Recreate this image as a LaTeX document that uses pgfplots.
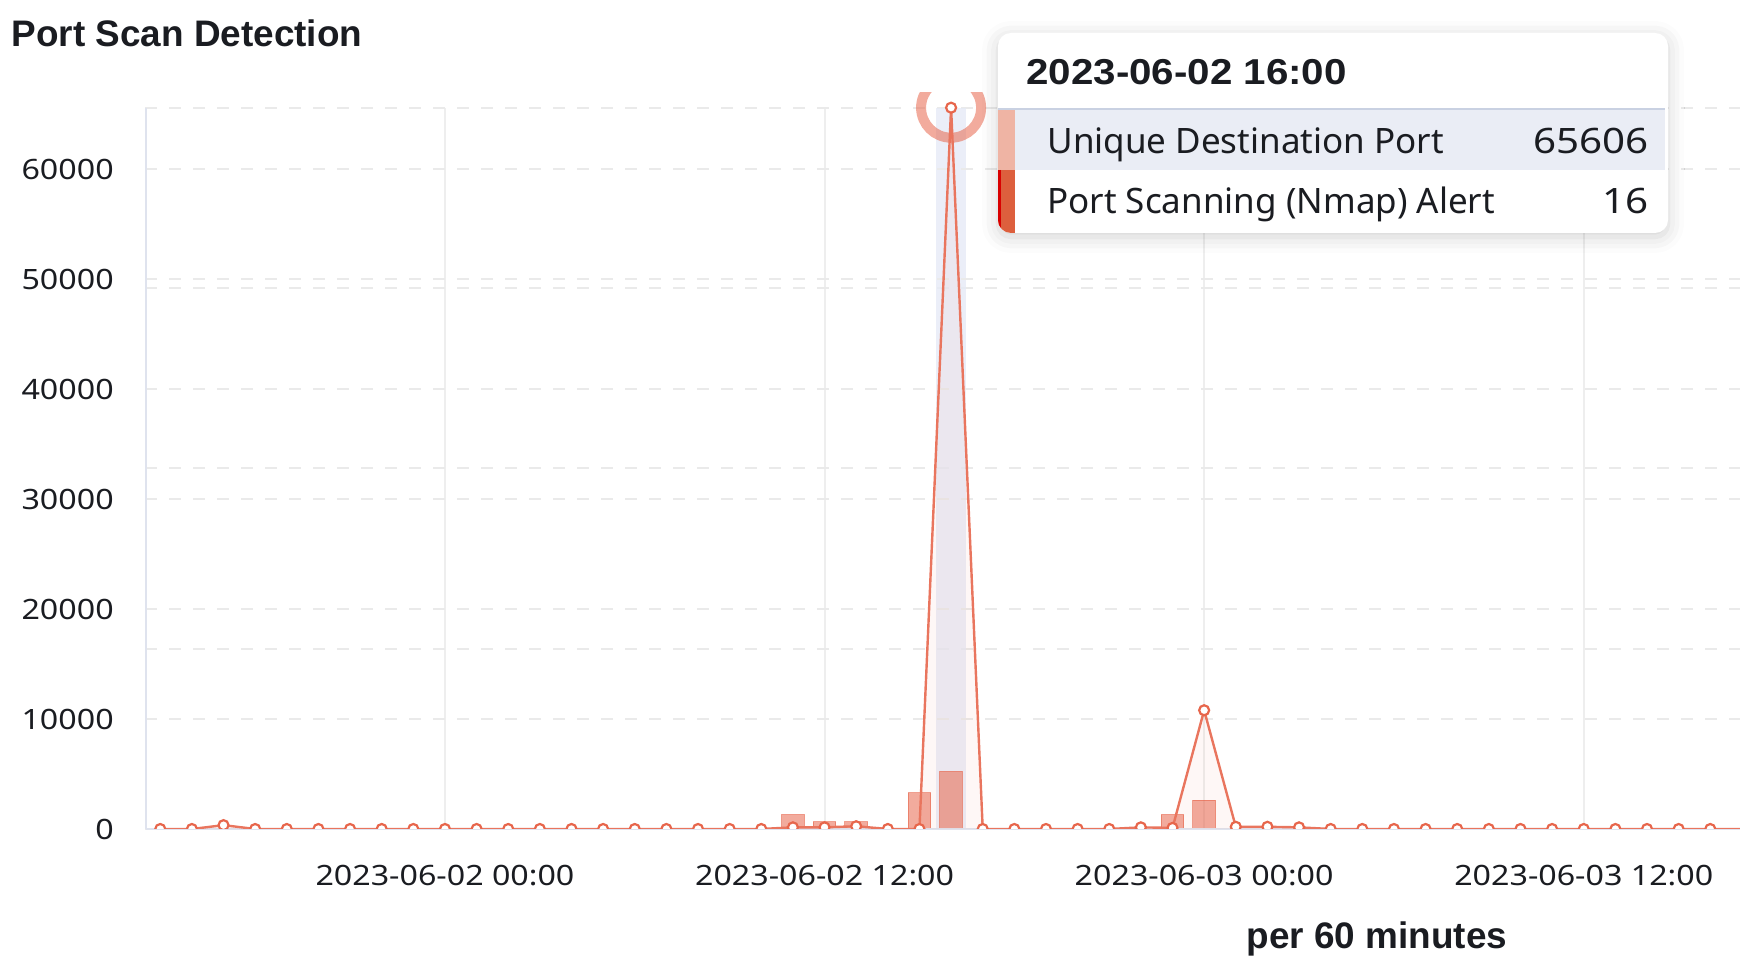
\documentclass[border=0pt]{standalone}
\usepackage{fontspec}
\setmainfont{Noto Sans}
\newfontfamily\widefont{Noto Sans}[FakeStretch=1.15]
\newfontfamily\bfont{Liberation Sans}
\newfontfamily\bwidefont{Liberation Sans}[FakeStretch=1.12]
\usepackage{pgfplots}
\usepackage{pgfplotstable}
\pgfplotsset{compat=1.18}
\usetikzlibrary{shadows.blur}

\definecolor{coral}{HTML}{E7664C}
\definecolor{gridc}{HTML}{EAEAEA}
\definecolor{vgrid}{HTML}{EEEEEE}
\definecolor{axisc}{HTML}{DFE3EE}
\definecolor{band}{HTML}{E6EAF6}
\definecolor{ink}{HTML}{1A1C21}
\definecolor{rowbg}{HTML}{EAEDF5}
\definecolor{sepc}{HTML}{C9D1E2}
\definecolor{stripeA}{HTML}{EFB4A4}
\definecolor{stripeB}{HTML}{DD5F3D}

% hours counted from 2023-06-02 00:00
\pgfplotstableread{
h ports
-9 0
-8 0
-7 350
-6 0
-5 0
-4 0
-3 0
-2 0
-1 0
0 0
1 0
2 0
3 0
4 0
5 0
6 0
7 0
8 0
9 0
10 0
11 150
12 150
13 250
14 0
15 0
16 65606
17 0
18 0
19 0
20 0
21 0
22 150
23 100
24 10800
25 200
26 200
27 150
28 0
29 0
30 0
31 0
32 0
33 0
34 0
35 0
36 0
37 0
38 0
39 0
40 0
41 0
}\portsdata

\pgfplotstableread{
h alerts
11 4
12 2
13 2
15 10
16 16
23 4
24 8
}\alertdata

\pgfplotsset{
  base/.style={
    scale only axis, width=159.46mm,
    xmin=-9.47, xmax=40.94, ymin=0,
    anchor=south west, at={(14.54mm,-82.9mm)},
    axis line style={draw=none},
    major tick length=0pt,
  },
  tickfont/.style={font=\widefont\fontsize{7.97pt}{9pt}\selectfont, text=ink},
}

\begin{document}
\begin{tikzpicture}
% alert counts, right scale (hidden)
\begin{axis}[base,
    height=72.13mm, ymax=200,
    ytick={50,100,150,200}, yticklabels={,,,},
    xtick={0,12,24,36},
    xticklabels={2023-06-02 00:00, 2023-06-02 12:00, 2023-06-03 00:00, 2023-06-03 12:00},
    xticklabel style={tickfont, anchor=north, inner sep=0pt, yshift=-3.55mm},
    xmajorgrids, ymajorgrids,
    major x grid style={vgrid, line width=0.2mm},
    major y grid style={gridc, line width=0.2mm, dash pattern=on 1.2mm off 1.2mm},
  ]
  \fill[band, opacity=0.8] (axis cs:15.52,0) rectangle (axis cs:16.48,200);
  \addplot[ybar, bar width=2.27mm, fill=coral, fill opacity=0.55,
           draw=coral, draw opacity=0.6, line width=0.1mm]
    table[x=h, y=alerts] {\alertdata};
\end{axis}

% unique destination ports, left scale
\begin{axis}[base,
    height=73.6mm, ymax=66943,
    ytick={0,10000,...,60000},
    xtick=\empty,
    scaled y ticks=false,
    /pgf/number format/.cd, 1000 sep={}, assume math mode=true,
    /pgfplots/.cd,
    yticklabel style={tickfont, anchor=east, inner sep=0pt, xshift=-3.1mm},
    ymajorgrids,
    major y grid style={gridc, line width=0.2mm, dash pattern=on 1.2mm off 1.2mm},
    clip mode=individual, clip marker paths=true,
  ]
  \draw[axisc, line width=0.2mm] (axis cs:-9.46,0) -- (axis cs:-9.46,65606);
  \draw[axisc, line width=0.2mm] (axis cs:-9.46,0) -- (axis cs:40.94,0);
  \addplot[only marks, mark=o, mark size=3mm,
           mark options={draw=coral, draw opacity=0.55, line width=1mm}]
    coordinates {(16,65606)};
  \addplot[fill=coral, fill opacity=0.05, draw=none]
    table[x=h, y=ports] {\portsdata} \closedcycle;
  \addplot[coral!90!white, line width=0.24mm, mark=*, mark size=0.5mm,
           mark options={fill=white, draw=coral, line width=0.22mm}]
    table[x=h, y=ports] {\portsdata};
\end{axis}

\node[anchor=base west, inner sep=0pt, text=ink,
      font=\bfont\fontsize{10.5pt}{12pt}\selectfont\bfseries] at (1.1mm,-4.67mm) {Port Scan Detection};
\node[anchor=base west, inner sep=0pt, text=ink,
      font=\bfont\fontsize{10.5pt}{12pt}\selectfont\bfseries] at (124.6mm,-94.83mm) {per 60 minutes};

% tooltip
\path[fill=white, rounded corners=1.3mm,
      blur shadow={shadow xshift=0mm, shadow yshift=-0.4mm, shadow blur radius=1.6mm, shadow opacity=18}]
  (99.8mm,-3.3mm) rectangle (166.8mm,-23.3mm);
\begin{scope}
  \clip[rounded corners=1.3mm] (99.8mm,-3.3mm) rectangle (166.8mm,-23.3mm);
  \fill[rowbg] (99.8mm,-11.0mm) rectangle (166.5mm,-17.0mm);
  \fill[sepc] (99.8mm,-10.8mm) rectangle (166.5mm,-11.05mm);
  \fill[stripeA] (99.8mm,-11.05mm) rectangle (101.5mm,-17.0mm);
  \fill[stripeB] (99.8mm,-17.0mm) rectangle (101.5mm,-23.3mm);
  \draw[red!85!black, line width=0.25mm] (99.95mm,-17.0mm) -- (99.95mm,-23.3mm);
\end{scope}
\node[anchor=base west, inner sep=0pt, text=ink,
      font=\bwidefont\fontsize{10.24pt}{12pt}\selectfont\bfseries] at (102.57mm,-8.5mm) {2023-06-02 16:00};
\node[anchor=base west, inner sep=0pt, text=ink,
      font=\fontsize{9.96pt}{12pt}\selectfont] at (104.67mm,-15.33mm) {Unique Destination Port};
\node[anchor=base east, inner sep=0pt, text=ink,
      font=\widefont\fontsize{9.96pt}{12pt}\selectfont] at (164.93mm,-15.33mm) {65606};
\node[anchor=base west, inner sep=0pt, text=ink,
      font=\fontsize{9.96pt}{12pt}\selectfont] at (104.67mm,-21.33mm) {Port Scanning (Nmap) Alert};
\node[anchor=base east, inner sep=0pt, text=ink,
      font=\widefont\fontsize{9.96pt}{12pt}\selectfont] at (164.93mm,-21.33mm) {16};

\pgfresetboundingbox
\path[use as bounding box] (0,0) rectangle (174mm,-96.8mm);
\end{tikzpicture}
\end{document}
